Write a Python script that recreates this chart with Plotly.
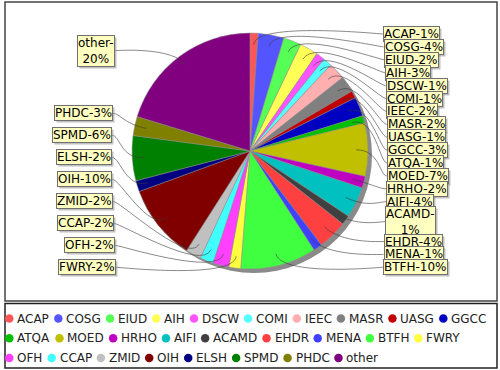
import math
import plotly.graph_objects as go

# ---------------- data ----------------
categories = ["ACAP", "COSG", "EIUD", "AIH", "DSCW", "COMI", "IEEC", "MASR", "UASG",
              "GGCC", "ATQA", "MOED", "HRHO", "AIFI", "ACAMD", "EHDR", "MENA", "BTFH",
              "FWRY", "OFH", "CCAP", "ZMID", "OIH", "ELSH", "SPMD", "PHDC", "other"]
values = [1.1, 3.5, 2.4, 2.5, 1.2, 1.2, 2.3, 2.2, 1.0,
          2.6, 1.0, 7.2, 1.6, 4.2, 1.3, 4.0, 1.2, 10.3,
          1.6, 2.2, 1.8, 2.1, 10.3, 1.5, 6.1, 2.6, 20.1]
colors = ["#FF5555", "#5555FF", "#55FF55", "#FFFF55", "#FF55FF", "#55FFFF", "#FFAFAF",
          "#808080", "#C00000", "#0000C0", "#00C000", "#C0C000", "#C000C0", "#00C0C0",
          "#404040", "#FF4040", "#4040FF", "#40FF40", "#FFFF40", "#FF40FF", "#40FFFF",
          "#C0C0C0", "#800000", "#000080", "#008000", "#808000", "#800080"]

# ---------------- geometry / style ----------------
W, H = 500, 370
CX, CY, R = 250.0, 151.0, 118.0
FONT = "DejaVu Sans"

DV = {'A': .684, 'B': .686, 'C': .698, 'D': .770, 'E': .632, 'F': .575, 'G': .775, 'H': .752,
      'I': .295, 'J': .295, 'K': .656, 'L': .557, 'M': .863, 'N': .748, 'O': .787, 'P': .603,
      'Q': .787, 'R': .695, 'S': .635, 'T': .611, 'U': .732, 'V': .684, 'W': .989, 'X': .685,
      'Y': .611, 'Z': .685, 'o': .612, 't': .392, 'h': .634, 'e': .615, 'r': .411,
      '-': .361, '%': .950, ' ': .318}
for d in "0123456789":
    DV[d] = .636


def text_width(s, size):
    return sum(DV.get(ch, 0.6) for ch in s) * size


total = sum(values)
pcts = [v / total * 100 for v in values]
mids = []
cum = 0.0
for v in values:
    mids.append((cum + v / 2) / total * 360.0)
    cum += v

labels = []
for c, p in zip(categories, pcts):
    pct_txt = f"{int(p + 0.5)}%"
    txt = f"{c}-{pct_txt}"
    if text_width(txt, 12) > 62.8:
        labels.append([f"{c}-", pct_txt])
    else:
        labels.append([txt])

LAB_TOP, LAB_BOT = 25.5, 275.8
LINE_H, BOX_PAD, MIN_GAP = 14.0, 3.0, 5.0
R_NAT = 125.0


def box_h(lines):
    return len(lines) * LINE_H + BOX_PAD


def distribute(idx):
    nat = {i: CY - math.cos(math.radians(mids[i])) * R_NAT for i in idx}
    order = sorted(idx, key=lambda i: nat[i])
    hs = [box_h(labels[i]) for i in order]
    n = len(order)
    avail = LAB_BOT - LAB_TOP
    tops = []
    if sum(hs) + MIN_GAP * (n - 1) > avail:
        gap = (avail - sum(hs)) / (n - 1)
        t = LAB_TOP
        for h in hs:
            tops.append(t)
            t += h + gap
    else:
        tops = [nat[i] - h / 2 for i, h in zip(order, hs)]
        prev = LAB_TOP - MIN_GAP
        for k in range(n):
            tops[k] = max(tops[k], prev + MIN_GAP)
            prev = tops[k] + hs[k]
        nxt = LAB_BOT + MIN_GAP
        for k in range(n - 1, -1, -1):
            tops[k] = min(tops[k], nxt - MIN_GAP - hs[k])
            nxt = tops[k]
    return {i: t + h / 2 for i, t, h in zip(order, tops, hs)}


right_idx = [i for i in range(len(values)) if mids[i] < 180]
left_idx = [i for i in range(len(values)) if mids[i] >= 180]
ypos = {}
ypos.update(distribute(right_idx))
ypos.update(distribute(left_idx))

fig = go.Figure()

# pie
fig.add_trace(go.Pie(
    labels=categories, values=values, sort=False, direction="clockwise", rotation=0,
    marker=dict(colors=colors, line=dict(color="#909090", width=0.5)),
    textinfo="none", hoverinfo="label+percent", showlegend=False,
    domain=dict(x=[(CX - R) / W, (CX + R) / W], y=[1 - (CY + R) / H, 1 - (CY - R) / H]),
))

shapes = []
# chart and legend frames
shapes.append(dict(type="rect", xref="x", yref="y", x0=5, y0=2, x1=497, y1=301,
                   line=dict(color="#444444", width=1.5), layer="below"))
shapes.append(dict(type="rect", xref="x", yref="y", x0=5, y0=303.5, x1=497, y1=368,
                   line=dict(color="#222222", width=1.5), layer="below"))
# pie shadow
shapes.append(dict(type="circle", xref="x", yref="y", x0=CX - R + 4, x1=CX + R + 4,
                   y0=CY - R + 4, y1=CY + R + 4, fillcolor="#8a8a8a",
                   line=dict(width=0), layer="below"))

annotations = []
order_draw = right_idx + sorted(left_idx, key=lambda i: ypos[i])
for i in order_draw:
    th = math.radians(mids[i])
    y = ypos[i]
    right = mids[i] < 180
    phase = math.cos((y - CY) / 130.0 * math.pi / 2)
    if right:
        xe = 382 + 5 * phase
        ax = CX + 1.1 * R
    else:
        xe = 117 - 5 * phase
        ax = CX - 1.1 * R
    ex, ey = CX + 1.1 * R * math.sin(th), CY - 1.1 * R * math.cos(th)
    lx, ly = CX + 0.9 * R * math.sin(th), CY - 0.9 * R * math.cos(th)
    shapes.append(dict(type="path", xref="x", yref="y",
                       path=f"M {xe:.2f},{y:.2f} C {ax:.2f},{y:.2f} {ex:.2f},{ey:.2f} {lx:.2f},{ly:.2f}",
                       line=dict(color="#3a3a3a", width=0.6)))
    txt = "<br>".join(labels[i])
    anchor = "left" if right else "right"
    annotations.append(dict(x=xe, y=y, xref="x", yref="y", text=txt, showarrow=False,
                            xanchor=anchor, yanchor="middle", align="center",
                            font=dict(family=FONT, size=12, color="rgba(0,0,0,0)"),
                            bgcolor="rgba(140,140,140,0.55)", bordercolor="rgba(0,0,0,0)",
                            borderwidth=1, borderpad=0, xshift=2, yshift=-2))
    annotations.append(dict(x=xe, y=y, xref="x", yref="y", text=txt, showarrow=False,
                            xanchor=anchor, yanchor="middle", align="center",
                            font=dict(family=FONT, size=12, color="#000000"),
                            bgcolor="#FFFFC0", bordercolor="#707070",
                            borderwidth=1, borderpad=0))

# legend (manual flow layout)
LEG_SIZE = 12
LEG_X0, LEG_XMAX = 9.3, 494.0
LEG_Y0, LEG_DY = 318.5, 19.7
TXT_OFF, ITEM_GAP = 7.0, 10.0
mx, my = [], []
x = LEG_X0
row = 0
for c in categories:
    w = text_width(c, LEG_SIZE)
    if x + TXT_OFF + w > LEG_XMAX:
        row += 1
        x = LEG_X0
    y = LEG_Y0 + row * LEG_DY
    mx.append(x)
    my.append(y)
    annotations.append(dict(x=x + TXT_OFF, y=y, xref="x", yref="y", text=c, showarrow=False,
                            xanchor="left", yanchor="middle",
                            font=dict(family=FONT, size=LEG_SIZE, color="#222222"),
                            borderpad=0))
    x = x + TXT_OFF + w + ITEM_GAP

fig.add_trace(go.Scatter(x=mx, y=my, mode="markers", showlegend=False, hoverinfo="skip",
                         marker=dict(size=8.5, color=colors, line=dict(width=0)),
                         cliponaxis=False))

fig.update_layout(
    width=W, height=H, margin=dict(l=0, r=0, t=0, b=0),
    paper_bgcolor="white", plot_bgcolor="white", showlegend=False,
    xaxis=dict(range=[0, W], domain=[0, 1], visible=False, fixedrange=True),
    yaxis=dict(range=[H, 0], domain=[0, 1], visible=False, fixedrange=True),
    shapes=shapes, annotations=annotations,
    font=dict(family=FONT),
)

fig.write_html("out.html", config={"displayModeBar": False},
               post_script="document.body.style.margin='0';document.body.style.overflow='hidden';")
